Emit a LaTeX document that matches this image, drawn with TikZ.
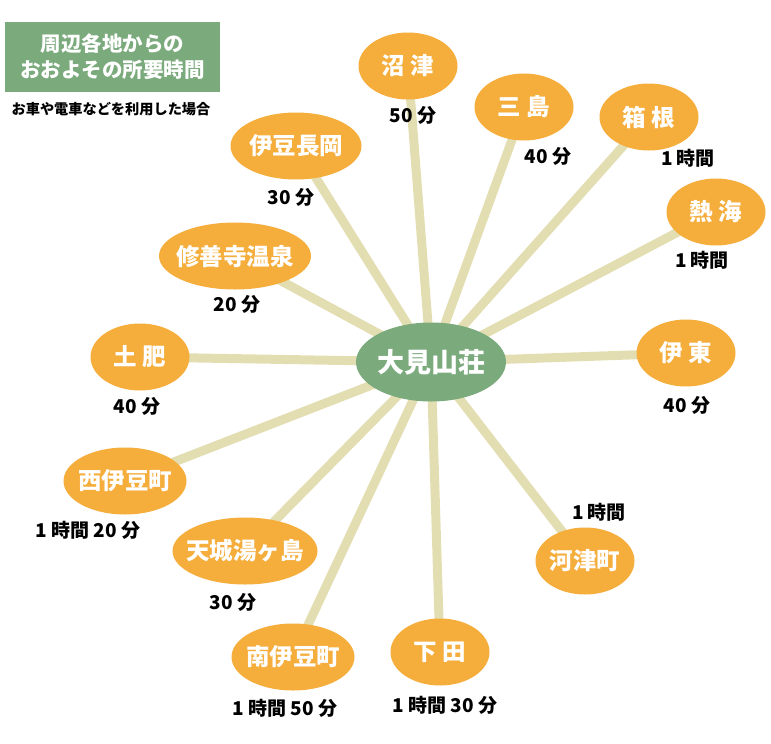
\documentclass[tikz,border=0pt]{standalone}
\usepackage{fontspec}
\setmainfont{Noto Sans CJK JP}
\usetikzlibrary{shapes.geometric, backgrounds, positioning}

\definecolor{hubgreen}{HTML}{7BAA7D}
\definecolor{spotorange}{HTML}{F5AD3C}
\definecolor{roadbeige}{HTML}{E3DEB2}

\begin{document}
\begin{tikzpicture}[
            x=1pt, y=-1pt,
            hub/.style={ellipse, fill=hubgreen, text=white, inner xsep=-10pt, inner ysep=0pt, minimum width=150pt, minimum height=79pt, font=\fontsize{27}{30}\selectfont\bfseries},
            spot/.style={ellipse, fill=spotorange, text=white, inner xsep=-10pt, inner ysep=0pt, minimum width=99pt, minimum height=67pt, font=\fontsize{23.5}{26}\selectfont\bfseries},
            time/.style={text=black, inner sep=0pt, font=\fontsize{19}{22}\selectfont\bfseries},
            road/.style={draw=roadbeige, line width=9pt}
        ]
            \useasboundingbox (0,0) rectangle (771,744);

            % Title
            \node [fill=hubgreen, text=white, minimum width=215pt, minimum height=70pt, inner sep=0pt, align=center, font=\fontsize{20.5}{26}\selectfont\bfseries] (title) at (112.5,57) {周辺各地からの\\おおよその所要時間};
            \node [inner sep=0pt, font=\fontsize{14.2}{16}\selectfont\bfseries] (note) at (111,109) {お車や電車などを利用した場合};

            % Nodes
            \node [hub] (omi) at (431,362) {大見山荘};
            \node [spot] (numazu) at (408,66) {沼 津};
            \node [spot] (mishima) at (524,107) {三 島};
            \node [spot] (hakone) at (649,117) {箱 根};
            \node [spot] (atami) at (716,212) {熱 海};
            \node [spot] (ito) at (686,353) {伊 東};
            \node [spot] (kawazu) at (585,561) {河津町};
            \node [spot] (shimoda) at (440,652) {下 田};
            \node [spot, minimum width=123pt] (minamiizu) at (293,657) {南伊豆町};
            \node [spot, minimum width=145pt] (amagi) at (245,551) {天城湯ヶ島};
            \node [spot, minimum width=123pt] (nishiizu) at (125,481) {西伊豆町};
            \node [spot] (toi) at (140,357) {土 肥};
            \node [spot, minimum width=152pt] (shuzenji) at (235,256) {修善寺温泉};
            \node [spot, minimum width=131pt] (izunagaoka) at (296,146) {伊豆長岡};

            % Times
            \node [time] (numazu-t) at (413,115) {50 分};
            \node [time] (mishima-t) at (548,156) {40 分};
            \node [time] (hakone-t) at (688,158) {1 時間};
            \node [time] (atami-t) at (702,260) {1 時間};
            \node [time] (ito-t) at (687,405) {40 分};
            \node [time] (kawazu-t) at (599,512) {1 時間};
            \node [time] (shimoda-t) at (445,705) {1 時間 30 分};
            \node [time] (minamiizu-t) at (285,708) {1 時間 50 分};
            \node [time] (amagi-t) at (233,602) {30 分};
            \node [time] (nishiizu-t) at (88,530) {1 時間 20 分};
            \node [time] (toi-t) at (137,406) {40 分};
            \node [time] (shuzenji-t) at (237,304) {20 分};
            \node [time] (izunagaoka-t) at (291,197) {30 分};

            % Edges
            \begin{scope}[on background layer]
                \foreach \s in {numazu, mishima, hakone, atami, ito, kawazu, shimoda, minamiizu, amagi, nishiizu, toi, shuzenji, izunagaoka}
                    \path [road] (omi.center) -- (\s.center);
            \end{scope}
        \end{tikzpicture}
\end{document}
